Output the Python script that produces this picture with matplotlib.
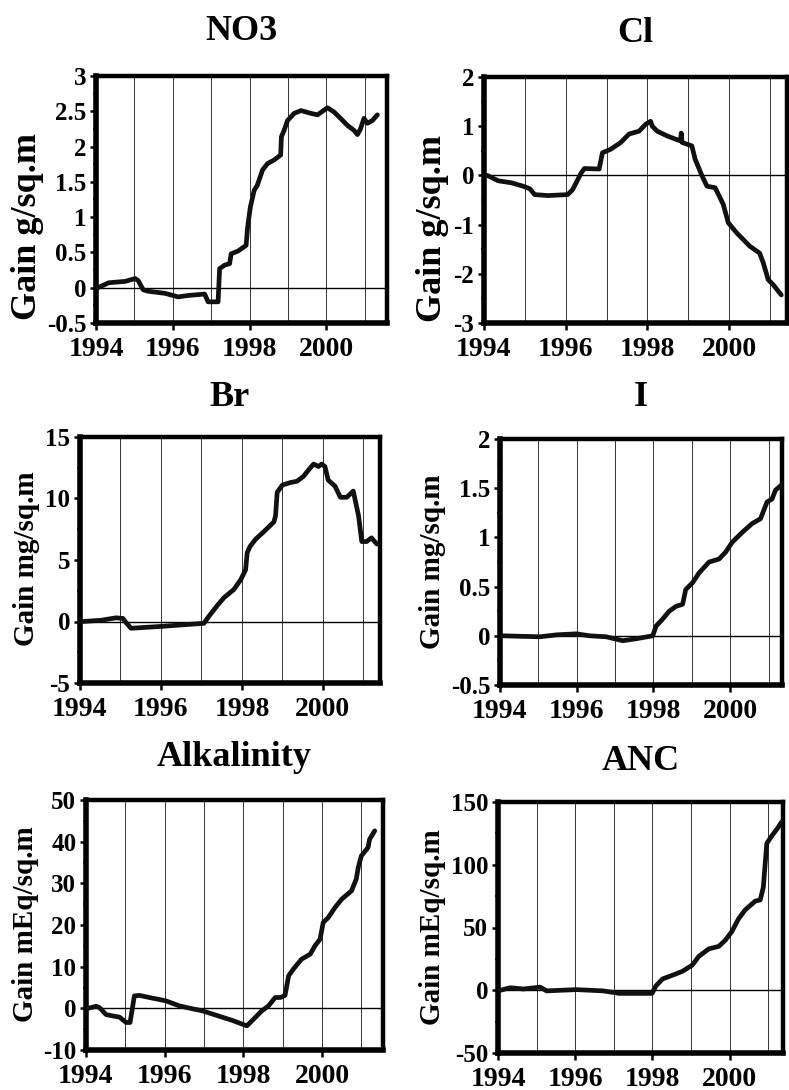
"""Seis paineis de ganho acumulado (NO3, Cl, Br, I, Alkalinity, ANC)."""

import matplotlib

matplotlib.use("Agg")
import matplotlib.pyplot as plt  # noqa: E402
from matplotlib.ticker import AutoMinorLocator  # noqa: E402

W, H = 789, 1090

# ---- dados (ano decimal, ganho) ----
no3_x = [1994.05, 1994.33, 1994.76, 1995.02, 1995.10, 1995.23, 1995.36, 1995.80,
         1996.14, 1996.40, 1996.83, 1996.92, 1997.18, 1997.22, 1997.35, 1997.48,
         1997.52, 1997.70, 1997.91, 1997.95, 1998.02, 1998.12, 1998.20, 1998.34,
         1998.47, 1998.64, 1998.81, 1998.83, 1998.90, 1998.99, 1999.16, 1999.34,
         1999.60, 1999.77, 2000.03, 2000.20, 2000.37, 2000.55, 2000.72, 2000.81,
         2000.89, 2000.98, 2001.07, 2001.20, 2001.33]
no3_y = [0.00, 0.07, 0.09, 0.13, 0.10, -0.03, -0.05, -0.08,
         -0.13, -0.11, -0.09, -0.20, -0.20, 0.27, 0.32, 0.34,
         0.48, 0.52, 0.60, 0.86, 1.14, 1.38, 1.45, 1.67,
         1.76, 1.81, 1.88, 2.14, 2.23, 2.37, 2.47, 2.51,
         2.47, 2.45, 2.55, 2.49, 2.40, 2.30, 2.23, 2.17,
         2.25, 2.40, 2.33, 2.37, 2.45]

cl_x = [1994.08, 1994.35, 1994.67, 1994.96, 1995.12, 1995.24, 1995.57, 1996.05,
        1996.17, 1996.38, 1996.46, 1996.82, 1996.90, 1997.10, 1997.35, 1997.55,
        1997.80, 1997.96, 1998.08, 1998.12, 1998.24, 1998.49, 1998.81, 1998.83,
        1998.85, 1999.09, 1999.17, 1999.34, 1999.46, 1999.66, 1999.86, 1999.98,
        2000.19, 2000.51, 2000.75, 2000.84, 2000.96, 2001.08, 2001.28]
cl_y = [0.00, -0.11, -0.15, -0.22, -0.27, -0.39, -0.41, -0.39,
        -0.29, 0.05, 0.14, 0.13, 0.46, 0.53, 0.67, 0.84,
        0.90, 1.04, 1.10, 1.00, 0.90, 0.80, 0.70, 0.86,
        0.67, 0.60, 0.33, -0.01, -0.22, -0.25, -0.59, -0.96,
        -1.17, -1.44, -1.58, -1.78, -2.12, -2.22, -2.43]

br_x = [1994.07, 1994.52, 1994.89, 1995.06, 1995.14, 1995.26, 1995.50, 1996.00,
        1996.41, 1997.06, 1997.19, 1997.39, 1997.56, 1997.80, 1997.97, 1998.09,
        1998.13, 1998.20, 1998.34, 1998.54, 1998.79, 1998.83, 1998.87, 1999.00,
        1999.20, 1999.36, 1999.52, 1999.64, 1999.77, 1999.89, 1999.97, 2000.05,
        2000.13, 2000.30, 2000.43, 2000.59, 2000.75, 2000.88, 2000.96, 2001.08,
        2001.20, 2001.33]
br_y = [0.0, 0.1, 0.3, 0.25, -0.1, -0.55, -0.5, -0.4,
        -0.3, -0.15, 0.45, 1.3, 1.95, 2.6, 3.4, 4.2,
        5.6, 6.1, 6.7, 7.3, 8.1, 8.6, 10.5, 11.1,
        11.3, 11.4, 11.8, 12.3, 12.8, 12.6, 12.8, 12.6,
        11.5, 11.0, 10.1, 10.1, 10.6, 8.6, 6.5, 6.5,
        6.8, 6.3]

i_x = [1994.05, 1995.04, 1995.48, 1995.99, 1996.34, 1996.77, 1997.20, 1997.55,
       1997.98, 1998.07, 1998.24, 1998.41, 1998.59, 1998.76, 1998.84, 1999.02,
       1999.19, 1999.45, 1999.71, 1999.88, 2000.05, 2000.31, 2000.57, 2000.79,
       2000.96, 2001.09, 2001.18, 2001.33]
i_y = [0.00, -0.01, 0.01, 0.02, 0.00, -0.01, -0.05, -0.03,
       0.00, 0.10, 0.17, 0.25, 0.30, 0.32, 0.47, 0.54,
       0.64, 0.75, 0.78, 0.85, 0.95, 1.05, 1.14, 1.19,
       1.36, 1.39, 1.48, 1.53]

alk_x = [1994.05, 1994.26, 1994.35, 1994.51, 1994.72, 1994.85, 1995.02, 1995.12,
         1995.23, 1995.36, 1995.61, 1996.03, 1996.37, 1996.70, 1996.96, 1997.29,
         1997.72, 1998.09, 1998.26, 1998.47, 1998.64, 1998.81, 1998.94, 1999.06,
         1999.15, 1999.27, 1999.48, 1999.70, 1999.82, 1999.95, 2000.03, 2000.16,
         2000.33, 2000.50, 2000.75, 2000.87, 2000.92, 2001.00, 2001.17, 2001.21,
         2001.34]
alk_y = [0.0, 0.5, 0.1, -1.5, -1.9, -2.1, -3.4, -3.4,
         3.0, 3.1, 2.6, 1.8, 0.6, -0.1, -0.6, -1.6,
         -2.9, -4.2, -2.6, -0.6, 0.6, 2.6, 2.6, 3.1,
         7.8, 9.4, 11.8, 13.0, 15.0, 16.6, 20.6, 21.8,
         24.2, 26.2, 28.2, 31.0, 33.8, 36.6, 38.6, 40.6,
         42.6]

anc_x = [1994.06, 1994.32, 1994.66, 1995.09, 1995.26, 1996.03, 1996.72, 1997.14,
         1997.99, 1998.09, 1998.26, 1998.52, 1998.77, 1999.03, 1999.20, 1999.46,
         1999.72, 1999.89, 2000.06, 2000.23, 2000.40, 2000.66, 2000.79, 2000.87,
         2000.96, 2001.09, 2001.26, 2001.34]
anc_y = [0.0, 2.0, 1.0, 2.5, -0.5, 0.5, -0.5, -2.5,
         -2.5, 3.5, 9.0, 12.0, 15.0, 20.0, 27.0, 33.0,
         35.0, 40.0, 47.0, 57.0, 64.0, 71.0, 72.0, 82.0,
         117.0, 123.0, 130.0, 134.0]

titles = ["NO3", "Cl", "Br", "I", "Alkalinity", "ANC"]
ylabels = ["Gain g/sq.m", "Gain g/sq.m", "Gain mg/sq.m", "Gain mg/sq.m",
           "Gain mEq/sq.m", "Gain mEq/sq.m"]
yticks = [
    [-0.5, 0, 0.5, 1, 1.5, 2, 2.5, 3],
    [-3, -2, -1, 0, 1, 2],
    [-5, 0, 5, 10, 15],
    [-0.5, 0, 0.5, 1, 1.5, 2],
    [-10, 0, 10, 20, 30, 40, 50],
    [-50, 0, 50, 100, 150],
]
years = list(range(1994, 2002))
year_labels = [1994, 1996, 1998, 2000]
series = [(no3_x, no3_y), (cl_x, cl_y), (br_x, br_y),
          (i_x, i_y), (alk_x, alk_y), (anc_x, anc_y)]

# ---- layout em pixels: (esq, dir, topo, base, xmax, centro do ylabel x, y, tamanho) ----
boxes = [
    (96, 387, 76, 323, 2001.58, 28, 227, 26),
    (484, 787, 77, 323, 2001.42, 433, 228, 26),
    (80, 380, 437, 683, 2001.41, 27, 559, 21),
    (500, 782, 439, 685, 2001.35, 433, 562, 21),
    (86, 383, 800, 1050, 2001.55, 26, 924, 21),
    (498, 783, 802, 1053, 2001.38, 432, 927, 21),
]
title_y = [32, 33, 398, 398, 757, 762]

plt.rcParams.update({"font.family": "Liberation Serif", "font.weight": "bold"})
fig = plt.figure(figsize=(W / 100, H / 100), dpi=100)

for k, (l, r, t, b, xmax, lx, ly, lsize) in enumerate(boxes):
    ax = fig.add_axes([l / W, 1 - b / H, (r - l) / W, (b - t) / H])
    ax.set_xlim(1994, xmax)
    ax.set_ylim(yticks[k][0], yticks[k][-1])

    for yr in years[1:]:
        ax.axvline(yr, color="#333333", lw=0.7, zorder=1)
    ax.axhline(0, color="black", lw=1.0, zorder=2)
    ax.plot(*series[k], color="#111111", lw=3.4, solid_capstyle="round",
            solid_joinstyle="round", zorder=3)

    for side, lw in (("left", 4.0), ("bottom", 4.0), ("right", 3.2), ("top", 3.2)):
        ax.spines[side].set_linewidth(lw)

    ax.set_xticks(year_labels)
    ax.set_xticklabels([str(v) for v in year_labels], fontsize=20, fontweight="bold")
    ax.set_yticks(yticks[k])
    ax.set_yticklabels([f"{v:g}" for v in yticks[k]], fontsize=18, fontweight="bold")
    ax.yaxis.set_minor_locator(AutoMinorLocator(2))
    ax.tick_params(axis="x", direction="out", length=5, width=1.8, pad=5)
    ax.tick_params(axis="y", which="major", direction="out", length=4, width=1.8, pad=3)
    ax.tick_params(axis="y", which="minor", direction="out", length=2, width=1.2)

    ax.annotate(titles[k], xy=(0.5, 1), xycoords="axes fraction",
                xytext=(0.5 * (l + r), H - title_y[k]), textcoords="figure pixels",
                ha="center", va="center", fontsize=26, fontweight="bold")
    fig.text(lx / W, 1 - ly / H, ylabels[k], rotation=90, ha="center", va="center",
             fontsize=lsize, fontweight="bold")

fig.savefig("out.png", dpi=100)
